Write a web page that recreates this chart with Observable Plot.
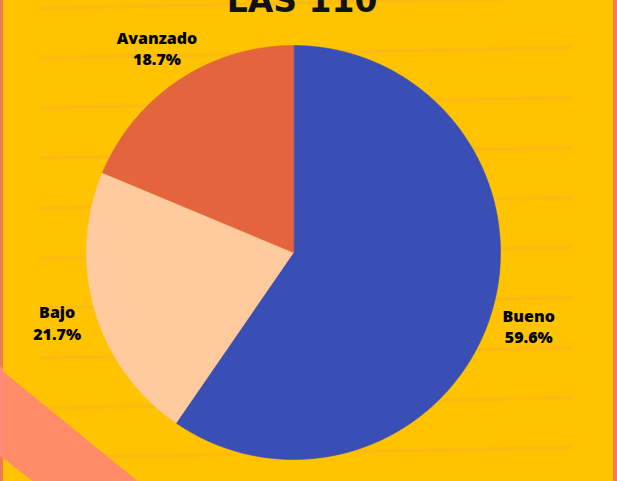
<!DOCTYPE html>
<html>
<head>
<meta charset="utf-8">
<script src="https://cdn.jsdelivr.net/npm/d3@7"></script>
<script src="https://cdn.jsdelivr.net/npm/@observablehq/plot@0.6"></script>
<style>
  html, body { margin: 0; padding: 0; background: #FFC300; }
  #wrap { position: relative; width: 617px; height: 481px; overflow: hidden; background: #FFC300; }
  #wrap > svg { position: absolute; left: 0; top: 0; }
</style>
</head>
<body>
<div id="wrap">
  <svg id="deco" width="617" height="481"></svg>
</div>
<script>
// ---- data ----
const title = "LAS 110";
const categories = ["Bueno", "Bajo", "Avanzado"];
const percents = [59.6, 21.7, 18.7];
const colors = ["#3A4FB5", "#FFCA9E", "#E4643E"];

// ---- layout ----
const W = 617, H = 481;
const cx = 293, cy = 252, R = 207;
const labelFactor = 1.19;

// ---- decoration (background) ----
const deco = d3.select("#deco");
for (let y0 = 8; y0 < H + 20; y0 += 50) {
  deco.append("line")
    .attr("x1", 42).attr("y1", y0)
    .attr("x2", 570).attr("y2", y0 - 10.5)
    .attr("stroke", "#FBB520").attr("stroke-width", 3.5).attr("stroke-linecap", "round")
    .attr("opacity", 0.5);
}
deco.append("rect").attr("x", 0).attr("y", 0).attr("width", 3).attr("height", H).attr("fill", "#EE7A5C");
deco.append("rect").attr("x", 613).attr("y", 0).attr("width", 4).attr("height", H).attr("fill", "#F47C5C");
deco.append("polygon")
  .attr("points", `-5,365 140,${H + 2} 35,${H + 2} -5,452`)
  .attr("fill", "#FF8C66");
deco.append("polygon")
  .attr("points", `0,366 3,368.5 3,454 0,452`)
  .attr("fill", "#FF8A80");
deco.append("text")
  .attr("x", 302).attr("y", 12)
  .attr("text-anchor", "middle")
  .attr("font-family", "'DejaVu Sans'")
  .attr("font-weight", "bold")
  .attr("font-size", 33)
  .attr("fill", "#111")
  .text(title);

// ---- pie geometry from data ----
const data = categories.map((c, i) => ({category: c, value: percents[i]}));
const arcs = d3.pie().sort(null).value(d => d.value)(data);
const pts = [];
arcs.forEach(a => {
  const cat = a.data.category;
  pts.push({cat, x: 0, y: 0});
  const n = Math.max(8, Math.ceil((a.endAngle - a.startAngle) / 0.005));
  for (let k = 0; k <= n; k++) {
    const t = a.startAngle + (a.endAngle - a.startAngle) * k / n;
    pts.push({cat, x: Math.sin(t), y: Math.cos(t)});
  }
});
const labels = arcs.map(a => {
  const m = (a.startAngle + a.endAngle) / 2;
  return {
    cat: a.data.category,
    x: labelFactor * Math.sin(m),
    y: labelFactor * Math.cos(m),
    text: a.data.category + "\n" + a.data.value.toFixed(1) + "%"
  };
});

const chart = Plot.plot({
  width: W,
  height: H,
  margin: 0,
  style: {background: "transparent", overflow: "visible", fontFamily: "'Open Sans'"},
  x: {domain: [-cx / R, (W - cx) / R], axis: null},
  y: {domain: [-(H - cy) / R, cy / R], axis: null},
  color: {domain: categories, range: colors},
  marks: [
    Plot.line(pts, {x: "x", y: "y", z: "cat", fill: "cat", stroke: "cat", strokeWidth: 0.6, curve: "linear-closed"}),
    Plot.text(labels, {x: "x", y: "y", text: "text", fontSize: 16, fontWeight: 800, fill: "#000", lineHeight: 1.35, fontFamily: "'Open Sans'"})
  ]
});
document.getElementById("wrap").appendChild(chart);
</script>
</body>
</html>
